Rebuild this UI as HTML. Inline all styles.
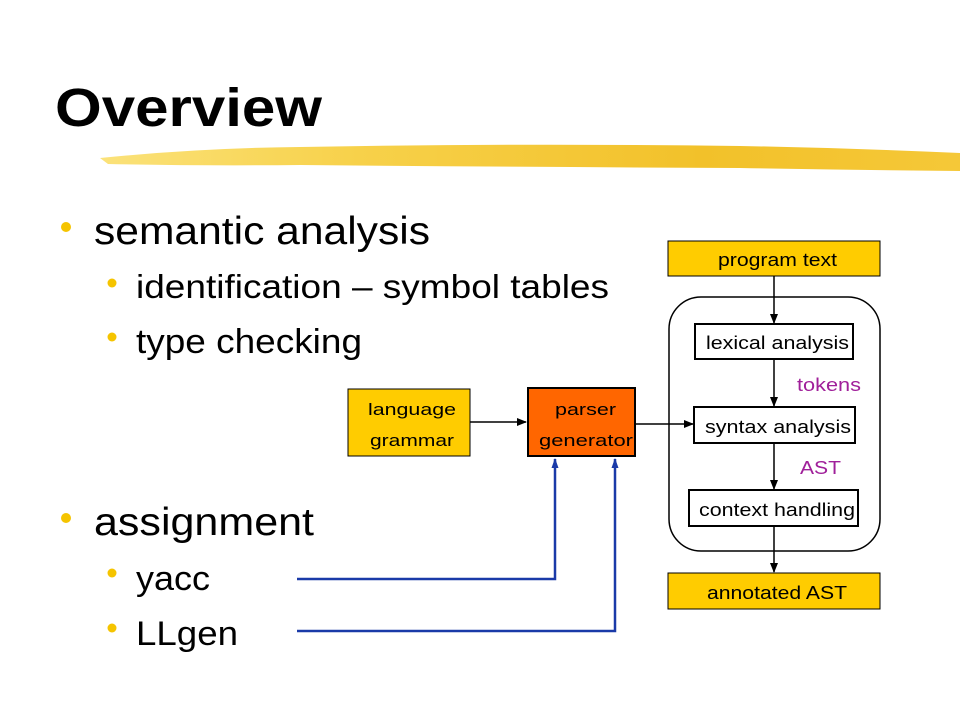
<!DOCTYPE html>
<html><head><meta charset="utf-8"><style>
html,body{margin:0;padding:0;background:#fff;}
svg{display:block;font-family:"Liberation Sans",Arial,sans-serif;}
</style></head><body>
<svg width="960" height="720" viewBox="0 0 960 720" xmlns="http://www.w3.org/2000/svg">
<defs>
<linearGradient id="br" x1="0" x2="1" y1="0" y2="0">
<stop offset="0" stop-color="#fbe27a"/><stop offset="0.3" stop-color="#f7d14a"/><stop offset="0.7" stop-color="#f2c12a"/><stop offset="1" stop-color="#f5c838"/>
</linearGradient>
<marker id="ak" markerWidth="10" markerHeight="10" refX="9" refY="5" orient="auto" markerUnits="userSpaceOnUse"><path d="M0,1 L10,5 L0,9 z" fill="#000"/></marker>
<marker id="ab" markerWidth="10" markerHeight="10" refX="9" refY="5" orient="auto" markerUnits="userSpaceOnUse"><path d="M0,1.5 L10,5 L0,8.5 z" fill="#1a3aa8"/></marker>
</defs>
<text x="55" y="126" font-size="54" font-weight="bold" textLength="267" lengthAdjust="spacingAndGlyphs">Overview</text>
<path d="M100,158 Q200,148 300,147 Q520,143 740,146 Q850,148 960,153 L960,171 Q850,170 740,168 Q520,167 300,165 Q200,166 108,164 Z" fill="url(#br)"/>
<g fill="#f5c400">
<circle cx="66" cy="227" r="5"/><circle cx="112" cy="283" r="4.5"/><circle cx="112" cy="337" r="4.5"/>
<circle cx="66" cy="518" r="5"/><circle cx="112" cy="573" r="4.5"/><circle cx="112" cy="628" r="4.5"/>
</g>
<g fill="#000">
<text x="94" y="244" font-size="39" textLength="336" lengthAdjust="spacingAndGlyphs">semantic analysis</text>
<text x="136" y="298" font-size="33" textLength="473" lengthAdjust="spacingAndGlyphs">identification – symbol tables</text>
<text x="136" y="353" font-size="34" textLength="226" lengthAdjust="spacingAndGlyphs">type checking</text>
<text x="94" y="535" font-size="39" textLength="220" lengthAdjust="spacingAndGlyphs">assignment</text>
<text x="136" y="590" font-size="34" textLength="74" lengthAdjust="spacingAndGlyphs">yacc</text>
<text x="136" y="645" font-size="34" textLength="102" lengthAdjust="spacingAndGlyphs">LLgen</text>
</g>
<!-- pipeline -->
<rect x="669" y="297" width="211" height="254" rx="32" fill="none" stroke="#000" stroke-width="1.5"/>
<rect x="668" y="241" width="212" height="35" fill="#ffcc00" stroke="#000" stroke-width="1"/>
<text x="718" y="266" font-size="18" textLength="119" lengthAdjust="spacingAndGlyphs">program text</text>
<rect x="695" y="324" width="158" height="35" fill="#fff" stroke="#000" stroke-width="2"/>
<text x="706" y="349" font-size="18" textLength="143" lengthAdjust="spacingAndGlyphs">lexical analysis</text>
<rect x="694" y="407" width="161" height="36" fill="#fff" stroke="#000" stroke-width="2"/>
<text x="705" y="433" font-size="18" textLength="146" lengthAdjust="spacingAndGlyphs">syntax analysis</text>
<rect x="689" y="490" width="169" height="36" fill="#fff" stroke="#000" stroke-width="2"/>
<text x="699" y="516" font-size="18" textLength="156" lengthAdjust="spacingAndGlyphs">context handling</text>
<rect x="668" y="573" width="212" height="36" fill="#ffcc00" stroke="#000" stroke-width="1"/>
<text x="707" y="599" font-size="18" textLength="140" lengthAdjust="spacingAndGlyphs">annotated AST</text>
<text x="797" y="391" font-size="18" fill="#a0209a" textLength="64" lengthAdjust="spacingAndGlyphs">tokens</text>
<text x="800" y="474" font-size="18" fill="#a0209a" textLength="41" lengthAdjust="spacingAndGlyphs">AST</text>
<g stroke="#000" stroke-width="1.5" fill="none">
<line x1="774" y1="276" x2="774" y2="323" marker-end="url(#ak)"/>
<line x1="774" y1="359" x2="774" y2="406" marker-end="url(#ak)"/>
<line x1="774" y1="443" x2="774" y2="489" marker-end="url(#ak)"/>
<line x1="774" y1="526" x2="774" y2="572" marker-end="url(#ak)"/>
<line x1="470" y1="422" x2="526" y2="422" marker-end="url(#ak)"/>
<line x1="635" y1="424" x2="693" y2="424" marker-end="url(#ak)"/>
</g>
<rect x="348" y="389" width="122" height="67" fill="#ffcc00" stroke="#000" stroke-width="1"/>
<text x="368" y="415" font-size="17" textLength="88" lengthAdjust="spacingAndGlyphs">language</text>
<text x="370" y="446" font-size="17" textLength="84" lengthAdjust="spacingAndGlyphs">grammar</text>
<rect x="528" y="388" width="107" height="68" fill="#ff6600" stroke="#000" stroke-width="2"/>
<text x="555" y="415" font-size="17" textLength="61" lengthAdjust="spacingAndGlyphs">parser</text>
<text x="539" y="446" font-size="17" textLength="94" lengthAdjust="spacingAndGlyphs">generator</text>
<g stroke="#1a3aa8" stroke-width="2.5" fill="none">
<polyline points="297,579 555,579 555,459" marker-end="url(#ab)"/>
<polyline points="297,631 615,631 615,459" marker-end="url(#ab)"/>
</g>
</svg>
</body></html>
